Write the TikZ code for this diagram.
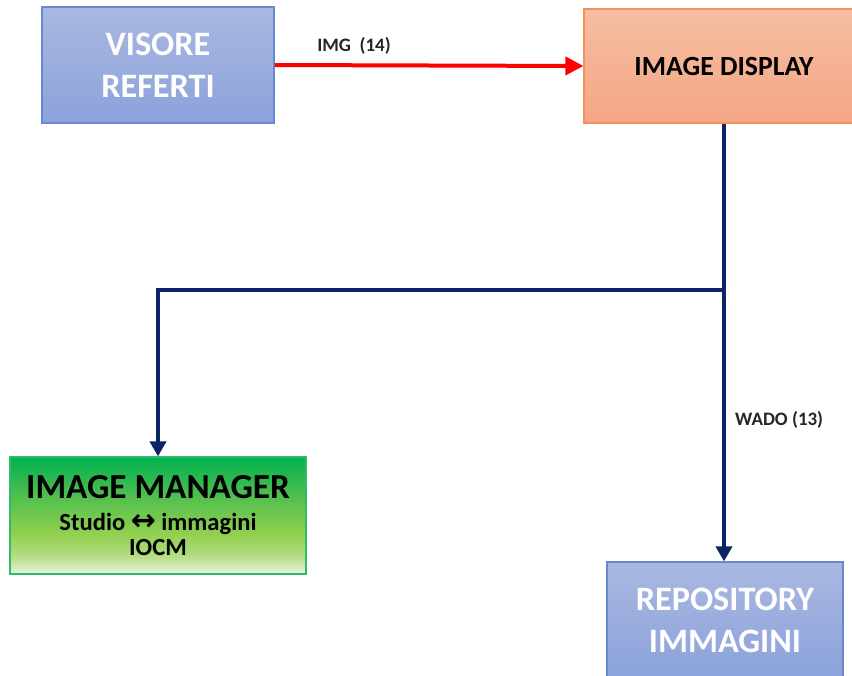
\documentclass[tikz,border=0pt]{standalone}
\usepackage{fontspec}
\setmainfont{Carlito}
\newfontfamily\arrowfont{DejaVu Sans}
\usetikzlibrary{arrows.meta, positioning, calc}

\definecolor{blueTop}{HTML}{AAB8E1}
\definecolor{blueBot}{HTML}{8BA2DB}
\definecolor{blueEdge}{HTML}{6688CF}
\definecolor{dispTop}{HTML}{F6BEA3}
\definecolor{dispBot}{HTML}{F4A683}
\definecolor{dispEdge}{HTML}{F0935A}
\definecolor{mgrEdge}{HTML}{2EBD66}
\definecolor{mgrA}{HTML}{E8F3E0}
\definecolor{mgrB}{HTML}{B2DC80}
\definecolor{mgrC}{HTML}{92D050}
\definecolor{mgrD}{HTML}{52BF4E}
\definecolor{mgrE}{HTML}{00B050}
\definecolor{navyLine}{HTML}{0A2466}
\definecolor{redLine}{HTML}{FF0000}
\pgfdeclareverticalshading{mgrshade}{100bp}{color(0bp)=(mgrA); color(25bp)=(mgrA); color(33bp)=(mgrB); color(42bp)=(mgrC); color(58bp)=(mgrD); color(75bp)=(mgrE); color(100bp)=(mgrE)}

\begin{document}
\begin{tikzpicture}[x=0.02cm, y=-0.02cm,
    bluebox/.style={draw=blueEdge, line width=0.7pt, top color=blueTop, bottom color=blueBot,
        minimum width=4.64cm, minimum height=2.32cm, align=center, text=white,
        font=\fontsize{19.5}{24}\selectfont\bfseries},
    dispbox/.style={draw=dispEdge, line width=0.7pt, top color=dispTop, bottom color=dispBot,
        minimum width=5.6cm, minimum height=2.28cm, align=center,
        font=\fontsize{15.8}{18}\selectfont\bfseries},
    mgrbox/.style={draw=mgrEdge, line width=0.7pt, shading=mgrshade,
        minimum width=5.92cm, minimum height=2.34cm, align=center,
        font=\fontsize{14}{14}\selectfont\bfseries},
    flowlbl/.style={font=\fontsize{10.8}{13}\selectfont\bfseries, text=black!85},
    navyarrow/.style={draw=navyLine, line width=0.085cm, -{Triangle[length=0.3cm, width=0.32cm]}}]

    \useasboundingbox (0,0) rectangle (852,676);
    \clip (0,0) rectangle (852,676);

    % Box : Visore referti
    \node[bluebox] (visore) at (158,65) {VISORE\\REFERTI};

    % Box : Image display
    \node[dispbox] (display) at (724,66) {IMAGE DISPLAY};

    % Box : Image manager
    \node[mgrbox] (manager) at (158,515.5) {{\fontsize{20}{20}\selectfont IMAGE MANAGER}\\[4.5pt]
        Studio {\arrowfont\fontsize{17}{14}\selectfont ↔} immagini\\[0pt]
        IOCM};

    % Box : Repository immagini
    \node[bluebox, minimum width=4.72cm] (repo) at (725,620) {REPOSITORY\\IMMAGINI};

    % IMG (14)
    \draw[draw=redLine, line width=0.08cm, -{Triangle[length=0.36cm, width=0.36cm]}] (visore.east) -- (display.west);
    \node[flowlbl] (imglbl) at (354,46) {IMG\ \ (14)};

    % WADO (13)
    \coordinate (split) at (724,290);
    \draw[navyarrow] (display.south) -- (display.south |- repo.north);
    \draw[navyarrow] (split) -- (split -| manager.north) -- (manager.north);
    \node[flowlbl, anchor=west] (wadolbl) at (729,420) {WADO (13)};
\end{tikzpicture}
\end{document}
